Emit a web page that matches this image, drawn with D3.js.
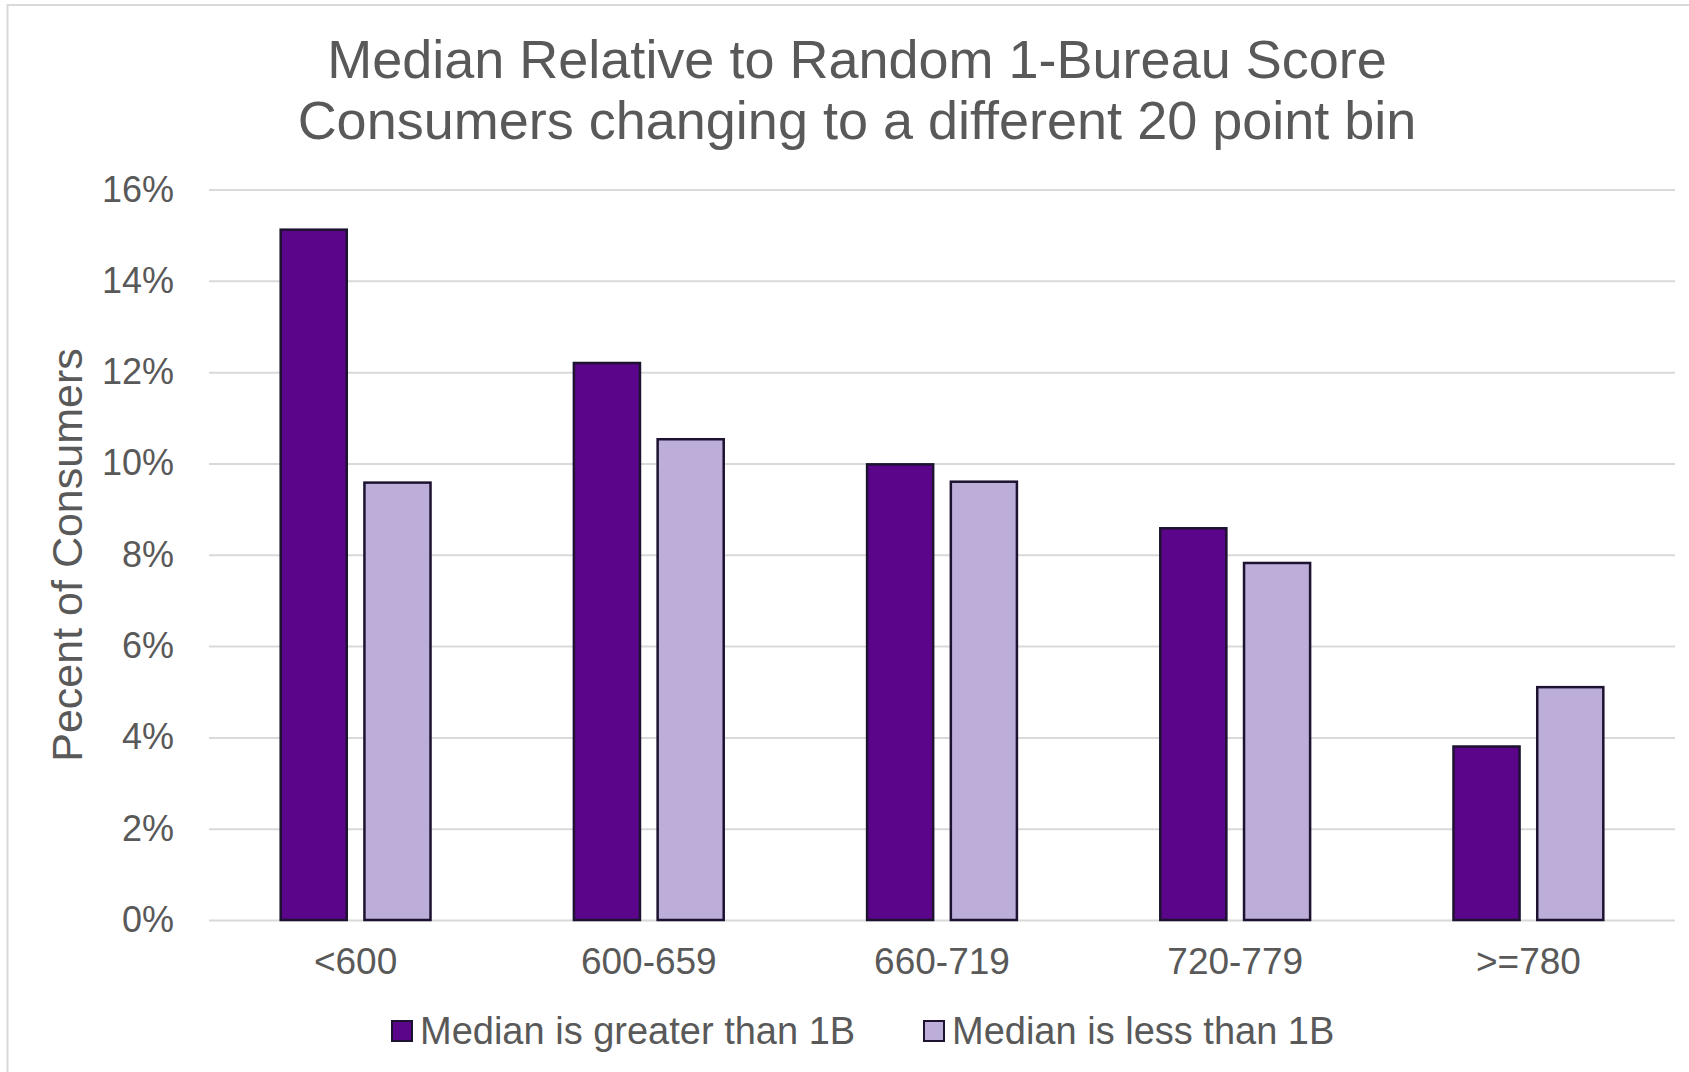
<!DOCTYPE html>
<html>
<head>
<meta charset="utf-8">
<script src="https://cdn.jsdelivr.net/npm/d3@7"></script>
<style>
  html, body { margin: 0; padding: 0; background: #fff; }
  svg { display: block; font-family: "Liberation Sans", Arial, sans-serif; }
</style>
</head>
<body>
<div id="chart"></div>
<script>

//******************************************************************************
//**  Data
//******************************************************************************
var categories = ["<600", "600-659", "660-719", "720-779", ">=780"];
var seriesNames = ["Median is greater than 1B", "Median is less than 1B"];
var greaterValues = [15.12, 12.2, 9.98, 8.58, 3.8];
var lessValues = [9.58, 10.53, 9.6, 7.82, 5.1];
var yTicks = [0, 2, 4, 6, 8, 10, 12, 14, 16];
var titleLines = [
    "Median Relative to Random 1-Bureau Score",
    "Consumers changing to a different 20 point bin"
];
var yTitle = "Pecent of Consumers";


//******************************************************************************
//**  Chart
//******************************************************************************
(function(){

    var width = 1689, height = 1072;
    var textColor = "#595959";
    var gridColor = "#d9d9d9";
    var colors = ["#5b068a", "#bcaed9"];
    var barStroke = "#1d1230";

    var plot = {left: 209, right: 1675, top: 189.5, bottom: 920};

    var svg = d3.select("#chart").append("svg")
        .attr("width", width)
        .attr("height", height);


  //Chart border
    svg.append("rect")
        .attr("x", 7.5)
        .attr("y", 5)
        .attr("width", width + 20)
        .attr("height", height + 20)
        .style("fill", "#fff")
        .style("stroke", gridColor)
        .style("stroke-width", 2);


  //Title
    svg.append("text")
        .attr("text-anchor", "middle")
        .style("font-size", "54px")
        .style("fill", textColor)
        .selectAll("tspan")
        .data(titleLines)
        .enter().append("tspan")
          .attr("x", 857)
          .attr("y", function(d, i){ return 78 + i*61; })
          .text(function(d){ return d; });


  //Scales
    var x = d3.scaleBand()
        .domain(categories)
        .range([plot.left, plot.right])
        .paddingInner(0.489)
        .paddingOuter(0.2445);

    var xInner = d3.scaleBand()
        .domain([0, 1])
        .range([0, x.bandwidth()])
        .paddingInner(0.211)
        .paddingOuter(0);

    var y = d3.scaleLinear()
        .domain([0, 16])
        .range([plot.bottom, plot.top]);


  //Gridlines + y labels
    var yAxis = d3.axisLeft(y)
        .tickValues(yTicks)
        .tickSize(-(plot.right - plot.left))
        .tickPadding(35)
        .tickFormat(function(d){ return d + "%"; });

    var gy = svg.append("g")
        .attr("transform", "translate(" + plot.left + ",0)")
        .call(yAxis);
    gy.select(".domain").remove();
    gy.selectAll("line")
        .style("stroke", gridColor)
        .style("stroke-width", 2);
    gy.selectAll("text")
        .style("font-family", "'Liberation Sans', Arial, sans-serif")
        .style("font-size", "36px")
        .style("fill", textColor);


  //Bars
    var rows = categories.map(function(c, i){
        return {category: c, values: [greaterValues[i], lessValues[i]]};
    });

    var groups = svg.append("g").selectAll("g")
        .data(rows)
        .enter().append("g")
          .attr("transform", function(d){ return "translate(" + x(d.category) + ",0)"; });

    groups.selectAll("rect")
        .data(function(d){ return d.values; })
        .enter().append("rect")
          .attr("x", function(d, i){ return xInner(i); })
          .attr("y", function(d){ return y(d); })
          .attr("width", xInner.bandwidth())
          .attr("height", function(d){ return y(0) - y(d); })
          .style("fill", function(d, i){ return colors[i]; })
          .style("stroke", barStroke)
          .style("stroke-width", 2.5);


  //X labels
    var xAxis = d3.axisBottom(x).tickSize(0).tickPadding(28);
    var gx = svg.append("g")
        .attr("transform", "translate(0," + plot.bottom + ")")
        .call(xAxis);
    gx.select(".domain").remove();
    gx.selectAll("text")
        .style("font-family", "'Liberation Sans', Arial, sans-serif")
        .style("font-size", "37px")
        .style("fill", textColor);


  //Y title
    svg.append("text")
        .attr("transform", "translate(82,555) rotate(-90)")
        .attr("text-anchor", "middle")
        .style("font-size", "43px")
        .style("fill", textColor)
        .text(yTitle);


  //Legend
    var legendX = [392, 924];
    var legend = svg.append("g").selectAll("g")
        .data(seriesNames)
        .enter().append("g")
          .attr("transform", function(d, i){ return "translate(" + legendX[i] + ",1031)"; });

    legend.append("rect")
        .attr("x", 0)
        .attr("y", -10)
        .attr("width", 20)
        .attr("height", 20)
        .style("fill", function(d, i){ return colors[i]; })
        .style("stroke", barStroke)
        .style("stroke-width", 2);

    legend.append("text")
        .attr("x", 28)
        .attr("y", 13)
        .style("font-size", "38px")
        .style("fill", textColor)
        .text(function(d){ return d; });

})();
</script>
</body>
</html>
